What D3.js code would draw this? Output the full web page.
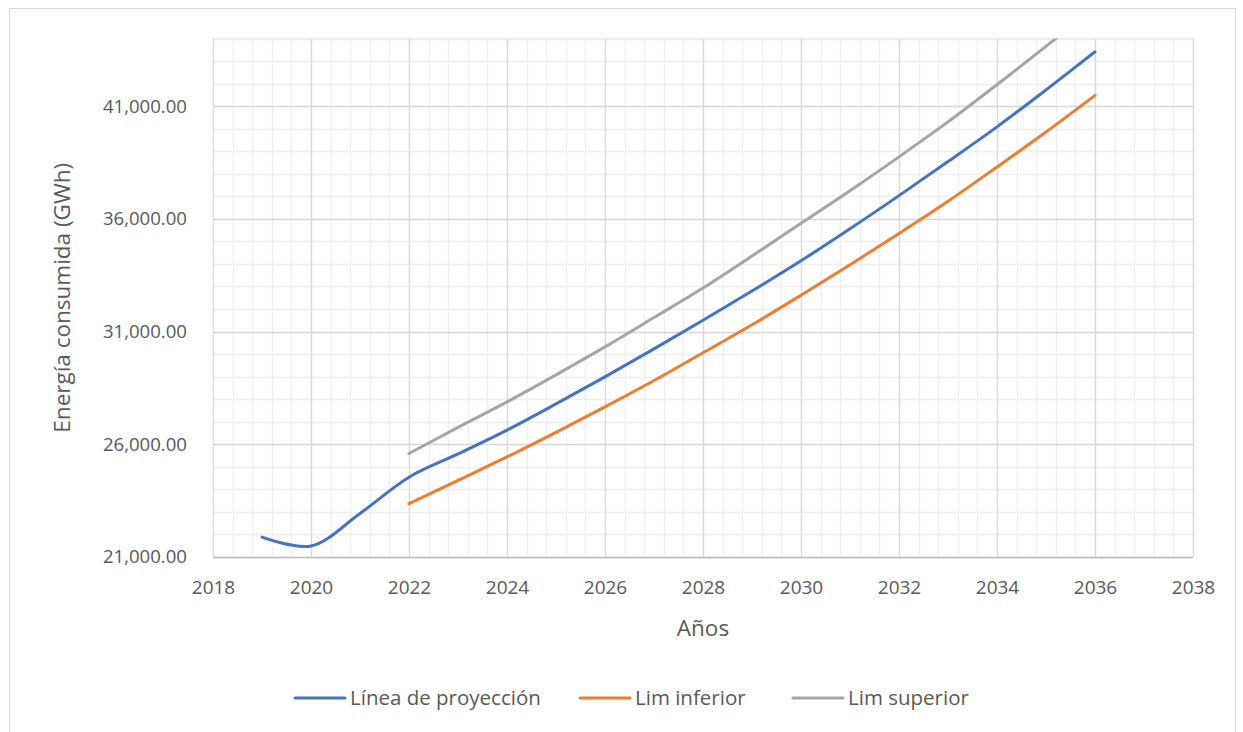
<!DOCTYPE html>
<meta charset="utf-8">
<style>
    body { margin: 0; background: #fff; }
    text { font-family: "Open Sans", "Noto Sans", sans-serif; fill: #595959; }
    .axis .domain { display: none; }
    .axis line { display: none; }
</style>
<svg width="1243" height="732"></svg>
<script src="https://d3js.org/d3.v7.min.js"></script>
<script>

    // data
    var yearsProj = [2019, 2020, 2021, 2022, 2023, 2024, 2025, 2026, 2027, 2028,
                     2029, 2030, 2031, 2032, 2033, 2034, 2035, 2036];
    var proyeccion = [21880, 21490, 22930, 24540, 25570, 26630, 27790, 28990, 30230, 31500,
                      32800, 34140, 35560, 37030, 38540, 40080, 41720, 43410];

    var yearsLim = [2022, 2023, 2024, 2025, 2026, 2027, 2028, 2029,
                    2030, 2031, 2032, 2033, 2034, 2035, 2036];
    var limInferior = [23370, 24400, 25440, 26530, 27660, 28830, 30060, 31300,
                       32615, 33960, 35350, 36780, 38300, 39850, 41475];
    var limSuperior = [25590, 26750, 27880, 29080, 30320, 31620, 32930, 34350,
                       35800, 37250, 38750, 40300, 41950, 43650, 45400];

    var seriesNames = ["Línea de proyección", "Lim inferior", "Lim superior"];
    var seriesColors = ["#4472C4", "#ED7D31", "#A5A5A5"];

    var xTicks = [2018, 2020, 2022, 2024, 2026, 2028, 2030, 2032, 2034, 2036, 2038];
    var yTicks = [21000, 26000, 31000, 36000, 41000];

    var svg = d3.select("svg"),
        width = +svg.attr("width"),
        height = +svg.attr("height"),
        margin = {top: 38.5, right: 50, bottom: 175, left: 213};

    // outer chart frame
    svg.append("rect")
        .attr("x", 9.5).attr("y", 8.5)
        .attr("width", 1226).attr("height", 740)
        .attr("fill", "none")
        .attr("stroke", "#d9d9d9");

    var x = d3.scaleLinear()
        .domain([2018, 2038])
        .range([margin.left, width - margin.right]);

    var y = d3.scaleLinear()
        .domain([21000, 44000])
        .range([height - margin.bottom, margin.top]);

    // minor grid
    var minorX = d3.range(2018, 2038.001, 0.4);
    var minorY = d3.range(21000, 44001, 1000);

    svg.append("g")
        .selectAll("line")
        .data(minorX)
        .enter().append("line")
        .attr("x1", function(d) { return Math.round(x(d)) + 0.5; })
        .attr("x2", function(d) { return Math.round(x(d)) + 0.5; })
        .attr("y1", y(21000))
        .attr("y2", y(44000))
        .attr("stroke", "#f0f0f0")
        .attr("stroke-width", 1.3);

    svg.append("g")
        .selectAll("line")
        .data(minorY)
        .enter().append("line")
        .attr("x1", x(2018))
        .attr("x2", x(2038))
        .attr("y1", function(d) { return Math.round(y(d)) + 0.5; })
        .attr("y2", function(d) { return Math.round(y(d)) + 0.5; })
        .attr("stroke", "#f0f0f0")
        .attr("stroke-width", 1.3);

    // major grid
    svg.append("g")
        .selectAll("line")
        .data(xTicks)
        .enter().append("line")
        .attr("x1", function(d) { return Math.round(x(d)) + 0.5; })
        .attr("x2", function(d) { return Math.round(x(d)) + 0.5; })
        .attr("y1", y(21000))
        .attr("y2", y(44000))
        .attr("stroke", "#d9d9d9")
        .attr("stroke-width", 1.3);

    svg.append("g")
        .selectAll("line")
        .data(yTicks)
        .enter().append("line")
        .attr("x1", x(2018))
        .attr("x2", x(2038))
        .attr("y1", function(d) { return Math.round(y(d)) + 0.5; })
        .attr("y2", function(d) { return Math.round(y(d)) + 0.5; })
        .attr("stroke", "#d9d9d9")
        .attr("stroke-width", 1.3);

    // top edge of plot
    svg.append("line")
        .attr("x1", x(2018)).attr("x2", x(2038))
        .attr("y1", y(44000)).attr("y2", y(44000))
        .attr("stroke", "#ececec").attr("stroke-width", 1.3);

    // horizontal axis line
    svg.append("line")
        .attr("x1", x(2018)).attr("x2", x(2038))
        .attr("y1", Math.round(y(21000)) + 0.5).attr("y2", Math.round(y(21000)) + 0.5)
        .attr("stroke", "#bfbfbf").attr("stroke-width", 1.5);

    // axes (labels only)
    svg.append("g")
        .attr("class", "axis axis--x")
        .attr("transform", "translate(0," + y(21000) + ")")
        .call(d3.axisBottom(x).tickValues(xTicks).tickFormat(d3.format("d")).tickSize(0).tickPadding(24))
        .selectAll("text")
        .attr("font-size", 19)
        .attr("fill", "#595959");

    svg.append("g")
        .attr("class", "axis axis--y")
        .attr("transform", "translate(" + (x(2018) - 26) + ",0)")
        .call(d3.axisLeft(y).tickValues(yTicks).tickFormat(d3.format(",.2f")).tickSize(0).tickPadding(0))
        .selectAll("text")
        .attr("font-size", 18.6)
        .attr("fill", "#595959");

    svg.selectAll(".axis").attr("font-family", null);

    // axis titles
    svg.append("text")
        .attr("x", (x(2018) + x(2038)) / 2)
        .attr("y", 636)
        .attr("text-anchor", "middle")
        .attr("font-size", 22.5)
        .text("Años");

    svg.append("text")
        .attr("transform", "translate(70," + ((y(21000) + y(44000)) / 2) + ") rotate(-90)")
        .attr("text-anchor", "middle")
        .attr("font-size", 22.5)
        .text("Energía consumida (GWh)");

    // lines
    svg.append("clipPath")
        .attr("id", "plot-clip")
        .append("rect")
        .attr("x", x(2018))
        .attr("y", y(44000))
        .attr("width", x(2038) - x(2018))
        .attr("height", y(21000) - y(44000));

    var line = d3.line()
        .curve(d3.curveCatmullRom.alpha(0.5))
        .x(function(d) { return x(d[0]); })
        .y(function(d) { return y(d[1]); });

    var seriesData = [
        d3.zip(yearsProj, proyeccion),
        d3.zip(yearsLim, limInferior),
        d3.zip(yearsLim, limSuperior)
    ];

    svg.append("g")
        .attr("clip-path", "url(#plot-clip)")
        .selectAll("path")
        .data(seriesData)
        .enter().append("path")
        .attr("fill", "none")
        .attr("stroke", function(d, i) { return seriesColors[i]; })
        .attr("stroke-width", 3)
        .attr("stroke-linejoin", "round")
        .attr("stroke-linecap", "round")
        .attr("d", line);

    // legend
    var legendX = [295, 580, 793];
    var legend = svg.append("g")
        .selectAll("g")
        .data(seriesNames)
        .enter().append("g")
        .attr("transform", function(d, i) { return "translate(" + legendX[i] + ",698)"; });

    legend.append("line")
        .attr("x1", 0).attr("x2", 50)
        .attr("y1", 0).attr("y2", 0)
        .attr("stroke", function(d, i) { return seriesColors[i]; })
        .attr("stroke-width", 3)
        .attr("stroke-linecap", "round");

    legend.append("text")
        .attr("x", 55)
        .attr("y", 0)
        .attr("dy", "0.35em")
        .attr("font-size", 20.5)
        .text(function(d) { return d; });

</script>
